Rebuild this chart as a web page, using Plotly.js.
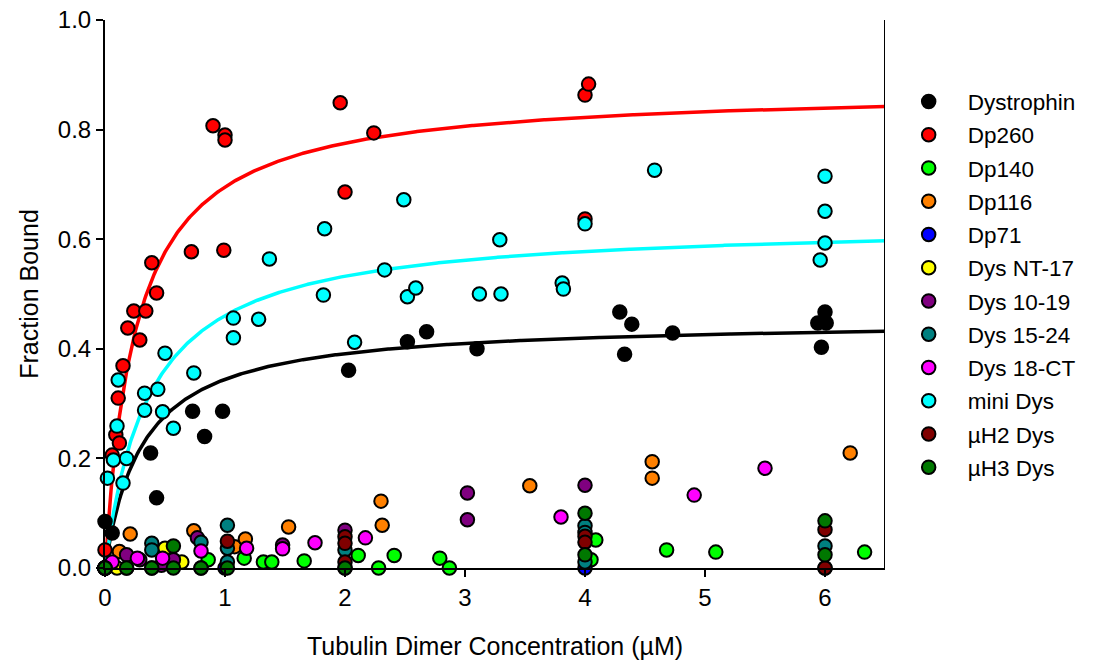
<!DOCTYPE html>
<html>
<head>
<meta charset="utf-8">
<script src="https://cdn.plot.ly/plotly-3.0.1.min.js"></script>
<style>html,body{margin:0;padding:0;background:#fff;}#chart{width:1102px;height:666px;}</style>
</head>
<body>
<div id="chart"></div>
<script>
// ---- Data ----
const seriesNames = ["Dystrophin","Dp260","Dp140","Dp116","Dp71","Dys NT-17","Dys 10-19","Dys 15-24","Dys 18-CT","mini Dys","\u00b5H2 Dys","\u00b5H3 Dys"];

const dystrophinX = [0, 0, 0.06, 0.38, 0.43, 0.73, 0.83, 0.98, 2.03, 2.52, 2.68, 3.1, 4.29, 4.39, 4.33, 4.73, 6.0, 5.94, 6.01, 5.97];
const dystrophinY = [0, 0.085, 0.064, 0.21, 0.128, 0.286, 0.24, 0.286, 0.361, 0.413, 0.431, 0.40, 0.467, 0.445, 0.39, 0.429, 0.467, 0.447, 0.447, 0.403];

const dp260X = [0, 0.06, 0.09, 0.12, 0.11, 0.15, 0.19, 0.24, 0.29, 0.34, 0.39, 0.43, 0.72, 0.9, 0.99, 1.0, 1.0, 1.96, 2.0, 2.24, 4.0, 4.0, 4.03];
const dp260Y = [0.033, 0.206, 0.243, 0.228, 0.31, 0.369, 0.438, 0.469, 0.416, 0.469, 0.557, 0.502, 0.577, 0.807, 0.58, 0.79, 0.781, 0.849, 0.686, 0.794, 0.637, 0.863, 0.883];

const dp140X = [0, 0.86, 1.16, 1.32, 1.39, 1.66, 2.11, 2.28, 2.41, 2.79, 2.87, 4.05, 4.09, 4.68, 5.09, 6.33];
const dp140Y = [0, 0.015, 0.018, 0.011, 0.011, 0.013, 0.023, 0.0, 0.023, 0.018, 0.0, 0.015, 0.051, 0.033, 0.029, 0.029];

const dp116X = [0, 0.12, 0.21, 0.74, 1.08, 1.17, 1.53, 2.3, 2.31, 3.54, 4.56, 4.56, 6.21];
const dp116Y = [0, 0.03, 0.062, 0.068, 0.039, 0.053, 0.075, 0.122, 0.078, 0.15, 0.194, 0.164, 0.21];

const dp71X = [0, 0.18, 0.39, 0.8, 1.0, 2.0, 4.0, 6.0];
const dp71Y = [0, 0, 0, 0, 0, 0, 0, 0];

const nt17X = [0, 0.1, 0.5, 0.64];
const nt17Y = [0, 0.0, 0.036, 0.011];

const dys1019X = [0, 0.18, 0.29, 0.47, 0.57, 0.77, 1.48, 2.0, 3.02, 3.02, 4.0];
const dys1019Y = [0, 0.024, 0.015, 0.005, 0.015, 0.055, 0.042, 0.069, 0.137, 0.088, 0.151];

const dys1524X = [0, 0.39, 0.39, 0.8, 1.02, 1.02, 1.02, 2.0, 4.0, 4.0, 4.0, 6.0];
const dys1524Y = [0, 0.045, 0.033, 0.047, 0.078, 0.036, 0.011, 0.033, 0.077, 0.065, 0.011, 0.04];

const dys18ctX = [0.06, 0.27, 0.48, 0.8, 1.18, 1.48, 1.75, 2.17, 3.8, 4.91, 5.5];
const dys18ctY = [0.011, 0.018, 0.018, 0.031, 0.036, 0.035, 0.046, 0.055, 0.093, 0.133, 0.182];

const miniDysX = [0, 0.02, 0.07, 0.11, 0.1, 0.15, 0.18, 0.33, 0.33, 0.44, 0.48, 0.5, 0.57, 0.74, 1.07, 1.07, 1.28, 1.37, 1.82, 1.83, 2.08, 2.33, 2.49, 2.52, 2.59, 3.12, 3.3, 3.29, 3.81, 3.82, 4.0, 4.58, 5.96, 6.0, 6.0, 6.0];
const miniDysY = [0, 0.164, 0.197, 0.343, 0.259, 0.155, 0.2, 0.319, 0.288, 0.326, 0.285, 0.392, 0.255, 0.356, 0.456, 0.42, 0.454, 0.564, 0.498, 0.619, 0.412, 0.544, 0.672, 0.495, 0.511, 0.5, 0.5, 0.599, 0.52, 0.509, 0.628, 0.726, 0.562, 0.593, 0.651, 0.715];

const uh2X = [0, 1.02, 2.0, 2.0, 2.0, 4.0, 4.0, 6.0, 6.0];
const uh2Y = [0, 0.049, 0.057, 0.045, 0.011, 0.058, 0.047, 0.07, 0.0];

const uh3X = [0, 0.18, 0.39, 0.57, 0.57, 0.8, 1.02, 2.0, 4.0, 4.0, 6.0, 6.0];
const uh3Y = [0, 0, 0, 0.04, 0, 0, 0, 0, 0.1, 0.024, 0.086, 0.024];

// One-site binding fits (Bmax, Kd) for the three fitted series
const fitSeries = ["Dystrophin","Dp260","mini Dys"];
const fitBmax = [0.453, 0.876, 0.631];
const fitKd = [0.316, 0.26, 0.37];

// ---- Styles ----
const seriesColors = ["#000000","#ff0000","#00ff00","#ff8000","#0000ff","#ffff00","#800080","#008080","#ff00ff","#00ffff","#800000","#007800"];
const fitColors = ["#000000","#ff0000","#00ffff"];

const seriesX = [dystrophinX, dp260X, dp140X, dp116X, dp71X, nt17X, dys1019X, dys1524X, dys18ctX, miniDysX, uh2X, uh3X];
const seriesY = [dystrophinY, dp260Y, dp140Y, dp116Y, dp71Y, nt17Y, dys1019Y, dys1524Y, dys18ctY, miniDysY, uh2Y, uh3Y];

const traces = [];
// fitted curves (drawn beneath the points)
const curveX = [];
for (let i = 0; i <= 650; i++) curveX.push(i / 100);
fitSeries.forEach((name, k) => {
  traces.push({
    type: "scatter", mode: "lines", x: curveX,
    y: curveX.map(c => fitBmax[k] * c / (fitKd[k] + c)),
    line: {color: fitColors[k], width: 3.5},
    showlegend: false, hoverinfo: "skip"
  });
});
seriesNames.forEach((name, i) => {
  traces.push({
    type: "scatter", mode: "markers", name: name,
    x: seriesX[i], y: seriesY[i], cliponaxis: false,
    legendgroup: "g" + i,
    marker: {size: 13.5, color: seriesColors[i], line: {color: "#000000", width: 2}}
  });
});

const font = "Liberation Sans, Arial, sans-serif";
const layout = {
  width: 1102, height: 666,
  margin: {l: 105, r: 217, t: 20, b: 98, pad: 0},
  paper_bgcolor: "#ffffff", plot_bgcolor: "#ffffff",
  font: {family: font, size: 20, color: "#000000"},
  showlegend: true,
  legend: {x: 1.006, xanchor: "left", y: 0.89, yanchor: "top", font: {family: font, size: 22.5, color: "#000"},
           bgcolor: "rgba(0,0,0,0)", tracegroupgap: 1, itemwidth: 68},
  xaxis: {
    range: [0, 6.5], tickvals: [0,1,2,3,4,5,6], ticks: "outside", ticklen: 7, tickwidth: 2, tickcolor: "#000",
    showline: true, linewidth: 2, linecolor: "#000", showgrid: false, zeroline: false,
    tickfont: {family: font, size: 24, color: "#000"},
    title: {text: "Tubulin Dimer Concentration (\u00b5M)", font: {family: font, size: 25, color: "#000"}, standoff: 28}
  },
  yaxis: {
    range: [0, 1], tickvals: [0,0.2,0.4,0.6,0.8,1.0], tickformat: ".1f", ticks: "outside", ticklen: 7, tickwidth: 2, tickcolor: "#000",
    showline: true, linewidth: 2, linecolor: "#000", showgrid: false, zeroline: false,
    tickfont: {family: font, size: 24, color: "#000"},
    title: {text: "Fraction Bound", font: {family: font, size: 25, color: "#000"}, standoff: 12}
  },
  shapes: [{type: "line", xref: "x", yref: "y", x0: 6.5, x1: 6.5, y0: 0, y1: 1, line: {color: "#000", width: 2}}]
};

Plotly.newPlot("chart", traces, layout, {displayModeBar: false, staticPlot: true});
</script>
</body>
</html>
